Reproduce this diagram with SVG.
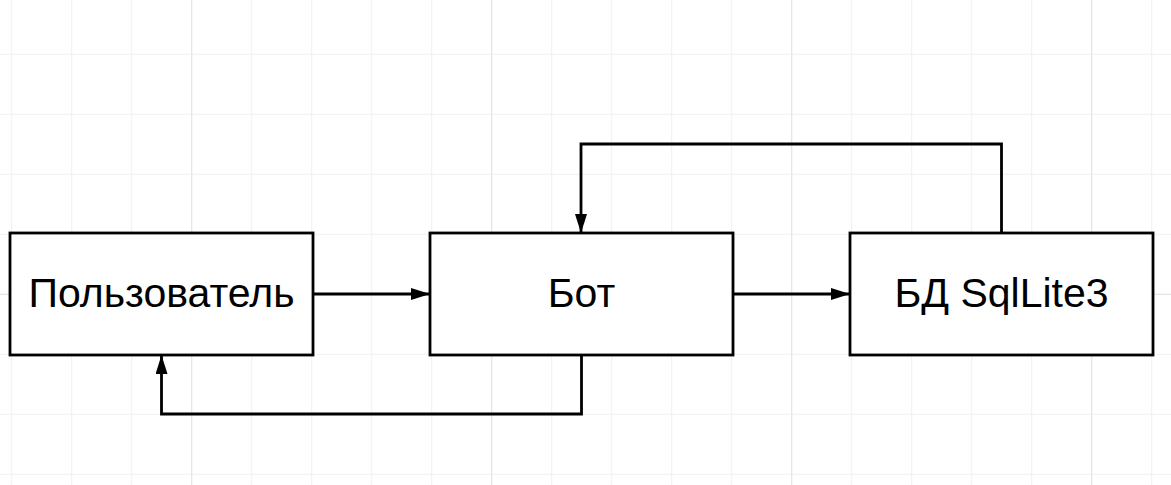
<svg xmlns="http://www.w3.org/2000/svg" width="1171" height="485" viewBox="0 0 1171 485">
<style>
.box{fill:#ffffff;stroke:#000000;stroke-width:2.8}
.lbl{font-family:"Liberation Sans",Arial,sans-serif;font-size:41px;fill:#000000;text-anchor:middle}
.edge{fill:none;stroke:#000000;stroke-width:2.8;marker-end:url(#arrow)}
</style>
<defs>
<pattern id="minor" x="11.2" y="53.8" width="60" height="60" patternUnits="userSpaceOnUse">
<path d="M0.5 0V60M0 0.5H60" stroke="#f0f0f0" stroke-width="1" fill="none"/>
</pattern>
<pattern id="major" x="191.2" y="-6.2" width="300" height="300" patternUnits="userSpaceOnUse">
<path d="M0.5 0V300M0 0.5H300" stroke="#e3e3e3" stroke-width="1" fill="none"/>
</pattern>
<marker id="arrow" markerUnits="userSpaceOnUse" markerWidth="20" markerHeight="12" refX="19" refY="6" orient="auto">
<path d="M0 0L19 6L0 12z" fill="#000000"/>
</marker>
</defs>
<rect width="1171" height="485" fill="#ffffff"/>
<rect width="1171" height="485" fill="url(#minor)"/>
<rect width="1171" height="485" fill="url(#major)"/>
<g id="connectors">
<path class="edge" d="M313 294H430"/>
<path class="edge" d="M733 294H850"/>
<path class="edge" d="M1001.5 233V144H581V233"/>
<path class="edge" d="M581.5 355V414H161.5V355"/>
</g>
<g id="user">
<rect class="box" x="10" y="233" width="303" height="122"/>
<text class="lbl" x="161.5" y="307">Пользователь</text>
</g>
<g id="bot">
<rect class="box" x="430" y="233" width="303" height="122"/>
<text class="lbl" x="581.5" y="307">Бот</text>
</g>
<g id="db">
<rect class="box" x="850" y="233" width="303" height="122"/>
<text class="lbl" x="1001.5" y="307">БД SqlLite3</text>
</g>
</svg>
